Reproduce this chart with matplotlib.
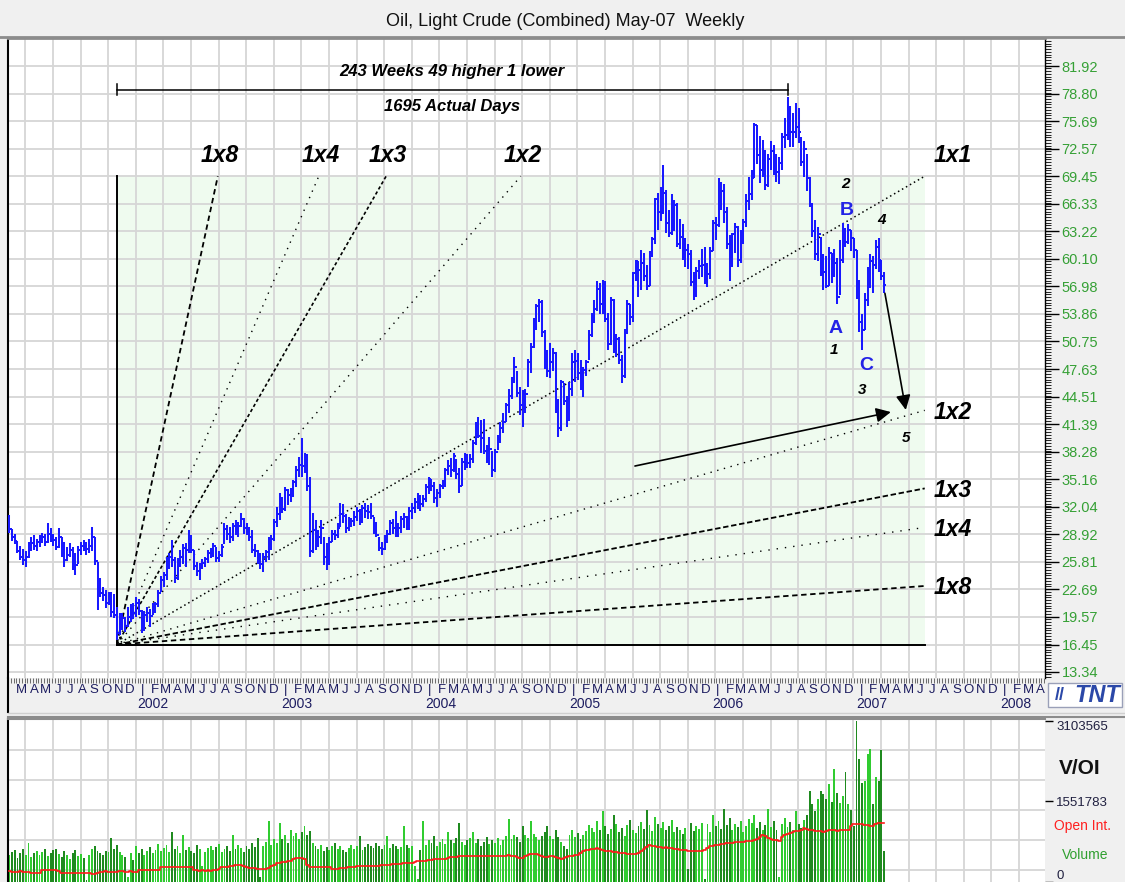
import numpy as np
import pandas as pd
import matplotlib
matplotlib.use("Agg")
import matplotlib.pyplot as plt
import matplotlib.dates as mdates
from matplotlib.collections import LineCollection
from matplotlib.lines import Line2D
from matplotlib.patches import Rectangle

plt.rcParams["font.family"] = ["Liberation Sans", "DejaVu Sans"]

TITLE = "Oil, Light Crude (Combined) May-07  Weekly"
first_week = "2001-02-16"

# weekly bars, one row per year (2001 starts mid Feb, 2007 ends mid Mar)
highs = [
    31.1, 29.5, 29.0, 28.2, 27.6, 27.3, 27.0, 28.0, 28.6, 28.8, 28.4, 28.9, 29.1, 29.0, 30.2, 29.6, 29.0, 28.6, 29.6, 28.6, 28.0, 27.5, 27.9, 27.5, 26.8, 27.6, 28.0, 28.3, 28.0, 28.4, 29.7, 28.6, 25.8, 24.0, 23.0, 22.6, 22.4, 22.4, 22.2, 20.7, 20.0, 20.0, 19.6, 20.7, 21.0, 21.2,
    21.8, 21.6, 20.3, 20.2, 20.7, 20.5, 21.1, 21.3, 22.6, 24.2, 24.7, 26.4, 26.8, 28.3, 26.4, 26.2, 27.1, 27.8, 27.9, 29.4, 28.8, 27.2, 25.8, 25.7, 26.1, 26.4, 27.1, 27.4, 27.9, 27.5, 27.0, 27.8, 30.2, 30.0, 29.7, 30.2, 30.5, 30.3, 31.3, 30.8, 30.2, 29.8, 29.4, 27.8, 27.1, 26.8, 26.8, 27.2, 28.6, 28.8, 30.6, 32.0,
    33.6, 33.2, 34.3, 34.0, 34.2, 35.1, 36.6, 37.7, 39.8, 38.1, 38.0, 35.4, 31.3, 30.5, 29.4, 30.5, 28.6, 27.9, 28.6, 29.4, 29.4, 30.2, 32.5, 32.3, 31.2, 30.9, 30.8, 31.6, 32.0, 31.8, 32.2, 32.5, 32.2, 32.5, 30.9, 30.3, 28.6, 28.0, 28.8, 29.4, 30.5, 30.6, 31.6, 30.2, 31.0, 31.3, 31.0, 32.0, 32.5, 33.0, 33.6, 33.4,
    33.4, 34.6, 35.4, 35.2, 34.8, 34.0, 34.6, 35.1, 36.4, 37.3, 37.6, 38.1, 37.5, 36.4, 37.6, 38.1, 38.0, 38.0, 39.6, 41.6, 42.2, 41.9, 42.0, 39.0, 39.9, 38.4, 38.6, 40.2, 41.6, 42.6, 43.8, 45.4, 46.7, 49.0, 47.4, 45.6, 45.2, 45.4, 48.8, 50.6, 53.4, 55.0, 55.6, 55.4, 52.0, 49.8, 50.6, 50.0, 49.6, 44.2, 46.4, 46.0, 44.6,
    46.2, 49.4, 49.8, 49.4, 48.6, 47.8, 48.6, 52.0, 54.0, 55.4, 57.6, 57.4, 57.7, 57.6, 54.0, 55.8, 55.6, 51.6, 51.2, 49.2, 52.2, 55.4, 55.0, 58.6, 60.0, 59.8, 61.1, 60.8, 59.4, 61.0, 62.6, 67.0, 67.6, 68.2, 70.7, 67.9, 65.6, 67.4, 66.8, 66.4, 64.6, 64.0, 62.4, 61.8, 61.1, 58.6, 59.2, 60.0, 61.2, 61.4, 59.6, 61.4,
    64.5, 64.8, 69.2, 68.8, 68.6, 66.0, 62.8, 63.0, 64.2, 63.8, 63.4, 64.6, 67.4, 69.4, 70.2, 75.5, 75.2, 74.0, 73.6, 72.4, 72.0, 73.4, 73.0, 72.0, 71.6, 74.3, 76.0, 78.4, 77.4, 76.6, 77.7, 77.2, 73.9, 73.4, 72.0, 69.4, 66.4, 64.5, 63.7, 62.6, 60.6, 60.4, 61.4, 60.8, 61.2, 60.2, 62.2, 64.2, 63.6, 64.0, 63.4, 62.4,
    61.1, 57.7, 53.9, 56.2, 59.2, 60.7, 60.4, 62.2, 62.4, 60.0, 58.6,
]
lows = [
    29.1, 28.2, 27.8, 26.8, 26.0, 25.4, 25.2, 26.2, 27.0, 27.2, 27.0, 27.5, 27.9, 27.6, 27.9, 28.0, 27.6, 27.1, 27.4, 26.4, 25.2, 25.9, 26.4, 24.9, 24.3, 25.6, 26.6, 27.0, 26.6, 26.8, 27.0, 25.4, 20.3, 21.8, 21.4, 20.6, 20.9, 19.6, 19.4, 17.0, 17.5, 18.1, 17.9, 18.4, 19.0, 19.3,
    19.6, 19.8, 17.8, 18.0, 19.0, 18.4, 19.8, 20.0, 20.7, 22.4, 23.0, 23.8, 25.0, 25.2, 23.4, 23.8, 25.2, 25.6, 25.2, 26.8, 26.8, 24.9, 24.2, 23.8, 25.0, 25.2, 25.7, 26.2, 26.4, 25.8, 25.8, 26.4, 27.8, 28.3, 27.9, 28.2, 28.8, 28.6, 29.7, 29.0, 28.8, 28.2, 26.8, 26.4, 25.6, 25.0, 24.7, 25.8, 26.0, 27.2, 28.2, 29.7,
    30.5, 31.3, 31.6, 32.2, 32.6, 33.1, 34.3, 35.4, 35.4, 35.9, 33.8, 26.4, 26.8, 27.2, 27.5, 27.8, 25.5, 24.9, 25.4, 28.1, 28.3, 28.5, 29.8, 30.2, 29.1, 29.3, 29.7, 29.9, 30.4, 30.0, 30.2, 30.8, 30.6, 30.6, 29.0, 28.6, 27.0, 26.6, 27.2, 27.9, 28.8, 29.0, 28.6, 28.6, 29.1, 29.6, 29.4, 29.4, 30.6, 31.3, 31.8, 31.6,
    32.0, 32.6, 33.5, 33.8, 32.5, 32.0, 33.0, 34.0, 34.3, 35.6, 35.4, 36.0, 35.2, 33.6, 34.4, 36.2, 36.4, 36.4, 37.0, 39.0, 39.8, 38.1, 38.0, 37.0, 36.8, 35.4, 36.0, 38.5, 39.2, 40.4, 41.6, 42.6, 44.2, 46.0, 44.5, 42.4, 41.1, 42.6, 45.6, 47.2, 50.0, 52.0, 53.0, 51.2, 47.6, 46.7, 46.6, 47.4, 42.6, 39.9, 40.6, 43.6, 41.1,
    41.8, 44.6, 46.2, 46.4, 45.2, 44.5, 46.8, 48.6, 51.2, 52.8, 54.2, 53.8, 53.8, 53.0, 49.8, 50.4, 49.4, 49.0, 48.2, 46.0, 46.6, 51.6, 52.6, 53.0, 57.6, 55.8, 56.6, 57.6, 56.6, 57.0, 60.3, 61.8, 63.4, 64.4, 65.2, 63.0, 62.6, 62.8, 63.2, 61.4, 61.2, 60.0, 59.2, 59.0, 57.0, 55.4, 55.8, 57.8, 58.0, 57.2, 56.9, 57.8,
    61.0, 62.2, 63.7, 65.6, 64.2, 61.2, 57.6, 59.2, 60.8, 59.2, 59.6, 61.8, 63.7, 65.6, 66.8, 69.2, 70.8, 68.7, 69.4, 67.9, 68.2, 70.2, 69.6, 68.8, 68.6, 70.2, 72.6, 73.6, 72.8, 72.7, 73.8, 73.2, 70.6, 69.4, 67.8, 66.0, 62.6, 60.0, 59.8, 58.2, 56.6, 56.8, 57.0, 57.4, 58.0, 55.0, 56.0, 59.6, 61.4, 61.8, 61.0, 60.2,
    55.6, 51.8, 49.8, 52.0, 54.8, 56.8, 56.2, 59.0, 58.6, 57.7, 56.2,
]
closes = [
    29.5, 28.6, 28.2, 27.0, 26.3, 26.0, 26.3, 27.6, 27.9, 27.6, 28.0, 28.4, 28.6, 28.1, 29.0, 28.5, 28.3, 27.5, 28.6, 26.8, 26.0, 26.6, 27.2, 25.6, 25.4, 27.2, 27.6, 27.4, 27.3, 27.6, 28.6, 25.9, 23.0, 22.3, 22.0, 21.2, 21.8, 20.1, 19.8, 17.8, 18.9, 19.4, 18.6, 19.6, 20.3, 20.0,
    21.2, 20.2, 18.2, 19.8, 20.0, 19.7, 20.6, 21.0, 22.3, 23.8, 24.3, 25.9, 26.3, 26.0, 24.0, 25.6, 26.3, 27.4, 27.2, 28.6, 27.1, 25.3, 24.8, 25.4, 25.7, 26.1, 26.8, 27.0, 27.6, 26.2, 26.6, 27.5, 29.5, 29.0, 28.6, 29.9, 29.4, 29.9, 30.6, 29.6, 29.3, 28.6, 27.2, 27.0, 26.0, 25.6, 26.4, 26.9, 28.2, 28.4, 30.3, 31.2,
    32.6, 31.8, 33.9, 33.4, 33.5, 34.8, 36.2, 36.8, 36.6, 37.8, 34.4, 27.0, 29.4, 28.3, 28.6, 29.6, 26.3, 25.8, 28.0, 29.0, 28.9, 29.6, 31.2, 31.0, 29.6, 30.2, 30.4, 30.9, 31.6, 30.3, 31.9, 31.6, 31.4, 31.0, 29.4, 28.9, 27.4, 27.3, 28.3, 29.0, 30.2, 29.6, 29.0, 29.6, 30.6, 30.9, 30.0, 31.6, 31.9, 32.6, 33.2, 32.4,
    32.9, 34.3, 35.2, 34.4, 33.0, 33.6, 34.4, 34.6, 36.2, 36.6, 36.2, 37.8, 35.8, 34.4, 37.1, 37.7, 37.0, 37.4, 39.3, 41.4, 40.0, 39.8, 38.4, 38.0, 38.6, 36.2, 38.2, 39.8, 40.9, 41.6, 43.6, 44.6, 46.6, 47.8, 44.9, 43.6, 42.8, 44.8, 48.4, 50.1, 53.3, 54.8, 55.2, 51.8, 49.6, 47.4, 48.4, 49.4, 43.2, 41.0, 46.2, 44.0, 43.4,
    45.4, 48.4, 48.5, 47.2, 46.5, 47.5, 48.4, 51.5, 53.8, 54.4, 56.7, 55.0, 57.3, 53.3, 50.5, 55.4, 49.7, 51.0, 48.7, 46.8, 51.9, 55.0, 53.5, 58.5, 59.8, 58.8, 59.6, 58.1, 57.0, 60.6, 62.3, 66.9, 65.4, 66.1, 67.6, 64.1, 63.0, 64.2, 66.2, 61.8, 62.6, 60.5, 61.1, 60.6, 57.5, 56.1, 58.7, 59.3, 59.4, 58.1, 58.4, 61.0,
    64.2, 63.9, 68.4, 67.8, 65.4, 61.8, 59.9, 62.9, 63.7, 60.0, 62.7, 64.3, 66.6, 67.4, 69.3, 75.2, 71.9, 70.2, 72.0, 68.5, 71.4, 72.3, 71.1, 69.9, 70.9, 73.9, 74.1, 77.0, 74.4, 74.5, 75.0, 74.4, 71.1, 72.5, 69.2, 66.3, 63.3, 60.6, 62.9, 59.8, 58.6, 57.0, 60.8, 59.1, 59.6, 55.8, 60.0, 63.4, 62.0, 63.4, 62.4, 61.1,
    56.3, 53.0, 52.0, 55.4, 59.0, 59.9, 59.4, 61.4, 60.0, 58.2, 57.1,
]
# volume and open interest, thousands of contracts
volume_k = [
    520, 580, 610, 470, 560, 640, 520, 747, 480, 560, 600, 520, 580, 640, 500, 560, 620, 640, 540, 480, 600, 520, 450, 560, 610, 500, 540, 470, 40, 520, 640, 700, 600, 560, 520, 600, 580, 843, 640, 720, 580, 520, 480, 100, 560, 420,
    700, 560, 640, 520, 600, 680, 560, 620, 740, 600, 660, 720, 580, 958, 640, 700, 560, 900, 620, 680, 600, 560, 720, 640, 300, 580, 660, 700, 620, 680, 740, 580, 640, 700, 600, 900, 640, 720, 660, 580, 700, 640, 760, 680, 850, 100, 700, 780, 1169, 720, 820, 760,
    1130, 820, 900, 760, 1000, 880, 940, 820, 960, 1073, 900, 980, 760, 700, 640, 720, 600, 680, 620, 700, 760, 640, 700, 620, 580, 660, 720, 640, 700, 880, 620, 680, 740, 700, 660, 760, 700, 640, 720, 880, 660, 740, 700, 640, 680, 1073, 720, 660, 700, 300, 50, 620,
    1169, 720, 800, 760, 880, 700, 780, 820, 740, 958, 800, 760, 840, 1130, 780, 720, 800, 840, 958, 760, 820, 700, 780, 860, 740, 800, 760, 840, 720, 800, 880, 1207, 820, 900, 860, 780, 1073, 900, 840, 1169, 920, 860, 800, 880, 960, 1073, 880, 820, 1000, 860, 780, 700, 640,
    900, 1000, 860, 940, 820, 900, 980, 1100, 1040, 960, 1180, 1000, 1360, 1080, 920, 1020, 1300, 1120, 960, 1040, 880, 1100, 1200, 1000, 940, 1080, 1160, 1020, 1380, 1100, 980, 1250, 1120, 1040, 1160, 1000, 1080, 1200, 960, 1060, 1000, 920, 1040, 250, 1130, 980, 1080, 1020, 1130, 50, 1120, 960,
    1300, 1080, 1180, 1020, 1400, 1100, 1240, 1000, 1120, 1060, 1180, 960, 1080, 1220, 1140, 1300, 1040, 1160, 1000, 1100, 1400, 1060, 1180, 1000, 100, 1120, 1240, 1060, 1160, 1000, 1370, 1120, 1040, 1200,
    1300, 1760, 1500, 1370, 1600, 1760, 1700, 1600, 1880, 1540, 2180, 1720, 1520, 1650, 2110, 1500, 1380, 1080,
    3100, 2375, 1900, 1940, 2470, 2565, 1500, 2030, 1950, 2550, 590,
]
open_int_k = [
    205, 200, 202, 198, 203, 200, 201, 199, 175, 172, 170, 174, 230, 236, 238, 234, 236, 232, 210,
    182, 180, 178, 181, 183, 179, 180, 178, 182, 176, 165, 153, 158, 170,
    195, 200, 204, 201, 198, 202, 200, 205, 203, 199, 201, 204, 200, 198,
    225, 232, 236, 238, 235, 240, 236, 233, 280, 286, 290, 288, 292, 285, 283, 288, 291, 287, 284, 280,
    240, 225, 220, 222, 218, 224, 221, 226, 240, 255, 280, 287, 292, 300, 310, 318, 325, 320, 300,
    280, 275, 270, 262, 258, 260, 255, 250, 262, 300, 330, 364, 372, 380, 392, 402, 410,
    440, 455, 462, 458, 445, 330, 295, 287, 290, 284, 286, 288, 282, 286,
    255, 250, 256, 262, 270, 276, 280, 290, 298, 304, 306, 302, 308, 306, 304, 310, 306, 315, 318,
    325, 330, 334, 340, 346, 350, 356, 362, 366, 370, 372, 385, 395, 402, 400, 405,
    420, 432, 440, 442, 438, 444, 446, 460, 479, 485, 490, 500, 510, 505, 498,
    498, 495, 500, 497, 502, 499, 496, 494, 500, 503, 498, 501, 505, 510, 512, 508, 506, 490,
    460, 470, 500, 520, 544, 540, 530, 520, 500, 490, 488, 492, 495, 490, 470,
    450, 465, 480, 495, 505, 512, 517, 560, 594, 610, 625, 638, 645, 651, 640, 620, 605,
    594, 590, 580, 575, 568, 560, 552, 548, 540, 536, 545, 560, 590, 640, 680,
    709, 700, 690, 680, 670, 660, 665, 655, 651, 640, 630, 622, 615, 610, 605, 600, 598, 596, 594, 600, 620,
    650, 690, 700, 710, 720, 730, 738, 745, 752, 760, 765, 770, 775, 780, 785, 790, 795, 800,
    820, 860, 900, 880, 850, 830, 815, 800, 795, 860, 900, 930, 950, 960, 975, 990, 996,
    1034, 1020, 1010, 1000, 990, 985, 975, 968, 980, 1000, 1010, 1000, 990, 995, 1000, 1005, 1010,
    1080, 1119, 1125, 1115, 1110, 1100, 1090, 1073, 1075, 1120, 1135, 1140, 1140,
]
assert len(highs) == len(lows) == len(closes) == len(volume_k) == len(open_int_k)

price_labels = ["13.34", "16.45", "19.57", "22.69", "25.81", "28.92", "32.04", "35.16",
                "38.28", "41.39", "44.51", "47.63", "50.75", "53.86", "56.98", "60.10",
                "63.22", "66.33", "69.45", "72.57", "75.69", "78.80", "81.92"]
vol_ticks = [0, 1551783, 3103565]
month_letters = ["|", "F", "M", "A", "M", "J", "J", "A", "S", "O", "N", "D"]

# gann box: from the Nov 2001 low week to late June 2007
gann_start = 39
gann_base, gann_top = 16.45, 69.45
gann_end = "2007-06-27"
peak_week = 282

W, H = 1125, 882
BG = "#f0f0f0"
GRID = "#d6d6d6"


def frect(l, t, r, b):
    return [l / W, 1 - b / H, (r - l) / W, (b - t) / H]


def fpt(x, y):
    return (x / W, 1 - y / H)


weeks = pd.date_range(first_week, periods=len(closes), freq="7D")
x = mdates.date2num(weeks)
hi, lo, cl = np.array(highs), np.array(lows), np.array(closes)
op = np.r_[cl[0], cl[:-1]]

xlim = mdates.date2num(pd.to_datetime(["2001-02-13", "2008-04-27"]))
grid_x = mdates.date2num(pd.date_range("2002-01-03", periods=7, freq="-70D"))[::-1][:-1]
grid_x = np.r_[grid_x, mdates.date2num(pd.date_range("2002-01-03", "2008-05-01", freq="70D"))]

fig = plt.figure(figsize=(W / 100, H / 100), dpi=100, facecolor=BG)

# title bar
fig.text(565 / W, 1 - 21 / H, TITLE, ha="center", va="center", fontsize=13,
         color="#111111")
fig.add_artist(Line2D([0, 1], [1 - 37 / H] * 2, color="#8c8c8c", lw=2))

ax = fig.add_axes(frect(8, 38, 1045, 678))
axd = fig.add_axes(frect(8, 678, 1045, 712), facecolor=BG)
axv = fig.add_axes(frect(8, 719, 1045, 882))

# ---- price panel
ax.set_xlim(xlim)
ax.set_ylim(12.66, 85.09)
for gx in grid_x:
    ax.axvline(gx, color=GRID, lw=1.3, zorder=0.5)
yt = [float(s) for s in price_labels]
for gy in yt:
    ax.axhline(gy, color=GRID, lw=1.3, zorder=0.5)

x0 = x[gann_start]
x1 = mdates.date2num(pd.Timestamp(gann_end))
dx, dy = x1 - x0, gann_top - gann_base
ax.add_patch(Rectangle((x0, gann_base), dx, dy, facecolor="#effbef", edgecolor="none", zorder=0.2))
ax.plot([x0, x0], [gann_base, gann_top], color="black", lw=1.4, zorder=2)
ax.plot([x0, x1], [gann_base, gann_base], color="black", lw=1.4, zorder=2)

fans = [
    ("1x8", 8, "up", (0, (3, 2)), 1.3),
    ("1x4", 4, "up", (0, (1, 4)), 1.0),
    ("1x3", 3, "up", (0, (2, 1.5)), 1.2),
    ("1x2", 2, "up", (0, (1, 4)), 1.0),
    ("1x1", 1, "up", (0, (1, 2)), 1.1),
    ("1x2", 2, "down", (0, (1, 4)), 1.0),
    ("1x3", 3, "down", (0, (3, 1.5)), 1.3),
    ("1x4", 4, "down", (0, (1, 5)), 1.0),
    ("1x8", 8, "down", (0, (3, 2)), 1.3),
]
lab_kw = dict(fontsize=16.5, fontweight="bold", fontstyle="italic", color="black",
              ha="center", va="center", textcoords="offset pixels", annotation_clip=False)
for name, r, side, ls, lw in fans:
    if side == "up":
        xe, ye = x0 + dx / r, gann_top
    else:
        xe, ye = x1, gann_base + dy / r
    ax.plot([x0, xe], [gann_base, ye], color="black", lw=lw, ls=ls, zorder=2)
    if side == "up" and r > 1:
        ax.annotate(name, (xe, ye), xytext=(2, 21), **lab_kw)
    elif r == 1:
        ax.annotate(name, (xe, ye), xytext=(28, 21), **lab_kw)
    else:
        ax.annotate(name, (xe, ye), xytext=(28, -2), **lab_kw)

# OHLC bars
tk = 3.5
segs = [[(xi, l), (xi, h)] for xi, l, h in zip(x, lo, hi)]
segs += [[(xi - tk, o), (xi, o)] for xi, o in zip(x, op)]
segs += [[(xi, c), (xi + tk, c)] for xi, c in zip(x, cl)]
ax.add_collection(LineCollection(segs, colors="#1818ff", linewidths=1.45, zorder=3))

# 243 weeks measure
ym = 79.2
xa, xb = x[gann_start], x[peak_week]
ax.plot([xa, xb], [ym, ym], color="black", lw=1.1, zorder=4)
for xx in (xa, xb):
    ax.plot([xx, xx], [ym - 0.6, ym + 0.7], color="black", lw=1.1, zorder=4)
ax.annotate("243 Weeks 49 higher 1 lower", ((xa + xb) / 2, ym), xytext=(0, 19),
            textcoords="offset pixels", ha="center", va="center", fontsize=12,
            fontweight="bold", fontstyle="italic")
ax.annotate("1695 Actual Days", ((xa + xb) / 2, ym), xytext=(0, -16),
            textcoords="offset pixels", ha="center", va="center", fontsize=12,
            fontweight="bold", fontstyle="italic")

# arrows
arr = dict(arrowstyle="-|>", color="black", lw=1.2, mutation_scale=22, shrinkA=0, shrinkB=0)
d = lambda s: mdates.date2num(pd.Timestamp(s))
end5 = (d("2007-05-10"), 43.0)
ax.annotate("", xy=end5, xytext=(d("2007-03-18"), 56.2), arrowprops=arr, zorder=5)
ax.annotate("", xy=(d("2007-04-02"), 42.76), xytext=(d("2005-06-22"), 36.65), arrowprops=arr, zorder=5)

# wave labels
wl = dict(textcoords="offset pixels", ha="center", va="center", annotation_clip=False)
blue = dict(fontsize=14, fontweight="bold", color="#2323e6")
num = dict(fontsize=11, fontweight="bold", fontstyle="italic", color="black")
ax.annotate("A", (x[300], lo[300]), xytext=(-2, -25), **wl, **blue)
ax.annotate("1", (x[300], lo[300]), xytext=(-3, -46), **wl, **num)
ax.annotate("B", (x[303], hi[303]), xytext=(1, 17), **wl, **blue)
ax.annotate("2", (x[303], hi[303]), xytext=(0, 44), **wl, **num)
ax.annotate("C", (x[309], lo[309]), xytext=(4, -16), **wl, **blue)
ax.annotate("3", (x[309], lo[309]), xytext=(0, -40), **wl, **num)
ax.annotate("4", (x[314], hi[314]), xytext=(6, 20), **wl, **num)
ax.annotate("5", end5, xytext=(0, -28), **wl, **num)

ax.yaxis.tick_right()
ax.set_yticks(yt, labels=price_labels)
ax.set_yticks(np.arange(12.75, 85.0, 0.31173), minor=True)
ax.tick_params(axis="y", which="major", length=10, width=1, color="black",
               labelcolor="#35a035", labelsize=10.5, pad=2)
ax.tick_params(axis="y", which="minor", length=4, width=0.6, color="black")
ax.set_xticks([])
ax.spines["bottom"].set_visible(False)
ax.spines["left"].set_linewidth(1.5)
ax.spines["top"].set_color("#8c8c8c")
ax.spines["top"].set_linewidth(2)
ax.spines["right"].set_linewidth(1)

# ---- date strip
axd.set_xlim(xlim)
axd.set_ylim(0, 1)
for s in ("top", "right", "bottom"):
    axd.spines[s].set_visible(False)
axd.spines["left"].set_linewidth(1.5)
axd.set_yticks([])
axd.set_xticks([])
wk_ticks = mdates.date2num(pd.date_range("2001-02-09", "2008-04-25", freq="7D"))
axd.set_xticks(wk_ticks, minor=True)
axd.tick_params(axis="x", which="minor", top=True, bottom=False, direction="in",
                length=3.5, width=0.6, color="#555555")
for ms in pd.date_range("2001-02-01", "2008-04-01", freq="MS"):
    xm = mdates.date2num(ms) + 15
    if xm < xlim[0] + 4:
        continue
    axd.text(xm, 0.66, month_letters[ms.month - 1], ha="center", va="center",
             fontsize=9.5, color="#1c1c60")
    if ms.month == 1:
        axd.text(mdates.date2num(ms) + 3, 0.24, str(ms.year), ha="left", va="center",
                 fontsize=10, color="#1c1c60")

fig.add_artist(Line2D([8 / W, 1], [1 - 713 / H] * 2, color="#d0d0d0", lw=1))
fig.add_artist(Line2D([8 / W, 1], [1 - 716.5 / H] * 2, color="#8c8c8c", lw=1.5))

# TNT logo
fig.add_artist(Rectangle(fpt(1048, 707), 74 / W, 24 / H, transform=fig.transFigure,
                         facecolor="white", edgecolor="#9aa0b8", lw=1))
fig.text(*fpt(1060, 695), "//", ha="center", va="center", fontsize=13,
         fontweight="bold", color="#2b48a8")
fig.text(*fpt(1097, 695), "TNT", ha="center", va="center", fontsize=17,
         fontweight="bold", fontstyle="italic", color="#2b48a8")

# ---- volume panel
vol = np.array(volume_k) * 1000.0
oi = np.array(open_int_k) * 1000.0
axv.set_xlim(xlim)
axv.set_ylim(0, 3.14e6)
for gx in grid_x:
    axv.axvline(gx, color=GRID, lw=1.3, zorder=0.5)
for gy in np.arange(0.231e6, 3.1e6, 0.578e6):
    axv.axhline(gy, color=GRID, lw=1.3, zorder=0.5)
up = cl >= op
vcol = np.where(up, "#30cc30", "#1f8a1f")
axv.bar(x, vol, width=4.8, color=vcol, linewidth=0, zorder=2)
axv.step(x, oi, where="mid", color="#ff1a1a", lw=1.2, zorder=3)
axv.yaxis.tick_right()
axv.set_yticks(vol_ticks, labels=[str(v) for v in vol_ticks])
axv.tick_params(axis="y", length=6, width=1, color="black", labelcolor="#202040",
                labelsize=9.5, pad=2)
tl = axv.get_yticklabels()
tl[0].set_va("bottom")
tl[2].set_va("top")
axv.set_xticks([])
for s in ("right", "bottom"):
    axv.spines[s].set_visible(False)
axv.spines["left"].set_linewidth(1.5)
axv.spines["top"].set_color("#8c8c8c")
axv.spines["top"].set_linewidth(1.5)

fig.text(*fpt(1080, 768), "V/OI", ha="center", va="center", fontsize=15,
         fontweight="bold", color="#111111")
fig.text(*fpt(1083, 826), "Open Int.", ha="center", va="center", fontsize=10,
         color="#ff2020")
fig.text(*fpt(1085, 855), "Volume", ha="center", va="center", fontsize=10,
         color="#30a030")

fig.savefig("out.png", dpi=100, facecolor=BG)
